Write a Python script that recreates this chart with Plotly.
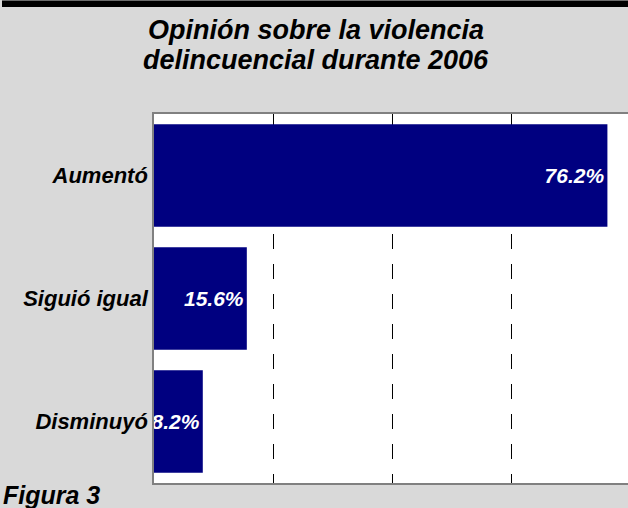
import plotly.graph_objects as go

categories = ["Aumentó", "Siguió igual", "Disminuyó"]
values = [76.2, 15.6, 8.2]
value_labels = ["76.2%", "15.6%", "8.2%"]
title_lines = ["Opinión sobre la violencia", "delincuencial durante 2006"]
footer = "Figura 3"

W, H = 628, 508
ML, MR, MT, MB = 154, 0, 114, 25
PW, PH = W - ML - MR, H - MT - MB

FONT = "Liberation Sans, Arial, sans-serif"


def px_x(x):
    return (x - ML) / PW


def px_y(y):
    # y measured in pixels from top of figure
    return 1 - (y - MT) / PH


fig = go.Figure(go.Bar(
    x=values,
    y=categories,
    orientation="h",
    marker=dict(color="#000080", line=dict(width=0)),
    text=value_labels,
    textposition="inside",
    insidetextanchor="end",
    constraintext="none",
    textangle=0,
    textfont=dict(family=FONT, size=21, color="white", weight="bold", style="italic"),
    hoverinfo="skip",
))

title_font = dict(family=FONT, size=27, color="black", weight="bold", style="italic")
annotations = []
for i, line in enumerate(title_lines):
    annotations.append(dict(
        text=line, xref="paper", yref="paper",
        x=px_x(316), y=px_y(40 + 30 * i + 7),
        xanchor="center", yanchor="bottom", showarrow=False,
        font=title_font,
    ))
annotations.append(dict(
    text=footer, xref="paper", yref="paper",
    x=px_x(1), y=px_y(511),
    xanchor="left", yanchor="bottom", showarrow=False,
    font=dict(family=FONT, size=25, color="black", weight="bold", style="italic"),
))

fig.update_layout(
    width=W, height=H,
    margin=dict(l=ML, r=MR, t=MT, b=MB, pad=0),
    paper_bgcolor="#d9d9d9",
    plot_bgcolor="white",
    bargap=0.165,
    showlegend=False,
    xaxis=dict(
        range=[0, 79.66],
        dtick=20,
        showticklabels=False,
        ticks="",
        showgrid=True,
        gridcolor="black",
        gridwidth=1,
        griddash="15px,15px",
        zeroline=False,
        showline=True,
        linecolor="#808080",
        linewidth=1.5,
        mirror=True,
        fixedrange=True,
    ),
    yaxis=dict(
        autorange="reversed",
        showgrid=False,
        zeroline=False,
        showline=True,
        linecolor="#808080",
        linewidth=1.5,
        ticks="",
        ticklabelstandoff=0,
        tickfont=dict(family=FONT, size=22, color="black", weight="bold", style="italic"),
        fixedrange=True,
    ),
    shapes=[
        dict(
            type="rect", xref="paper", yref="paper",
            x0=px_x(2), x1=px_x(W),
            y0=px_y(7), y1=px_y(0.5),
            fillcolor="black", line=dict(width=0), layer="above",
        )
    ],
    annotations=annotations,
)

fig.write_html(
    "out.html",
    config={"displayModeBar": False},
    post_script="document.body.style.margin='0';document.body.style.overflow='hidden';",
)
